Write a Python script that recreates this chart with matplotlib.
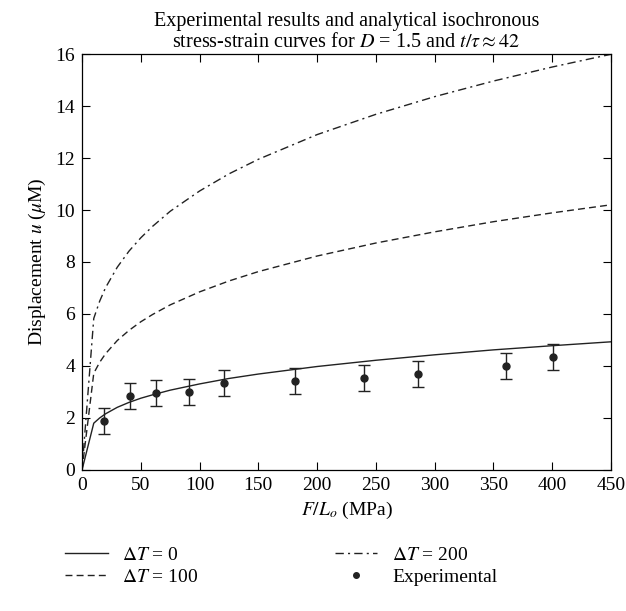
import matplotlib
matplotlib.use("Agg")
import matplotlib.pyplot as plt

# Analytical curves
x_curve = [0, 10, 15, 20, 30, 40, 50, 60, 75, 100, 125, 150, 200, 250, 300, 350, 400, 450]
u_dt0 = [0, 1.80, 2.00, 2.16, 2.41, 2.60, 2.76, 2.89, 3.07, 3.31, 3.52, 3.69, 3.98, 4.22, 4.43, 4.62, 4.78, 4.93]
u_dt100 = [0, 3.72, 4.14, 4.47, 4.98, 5.37, 5.70, 5.98, 6.35, 6.85, 7.27, 7.63, 8.23, 8.73, 9.16, 9.55, 9.89, 10.2]
u_dt200 = [0, 5.83, 6.49, 7.01, 7.80, 8.42, 8.93, 9.37, 9.95, 10.73, 11.39, 11.95, 12.90, 13.68, 14.36, 14.96, 15.50, 15.99]

# Experimental data
x_exp = [18.7, 40.8, 62.9, 91, 120.7, 181, 239.8, 285.7, 360.5, 400.5]
u_exp = [1.88, 2.85, 2.96, 3.0, 3.35, 3.42, 3.54, 3.69, 4.0, 4.36]
u_err = [0.5, 0.5, 0.5, 0.5, 0.5, 0.5, 0.5, 0.5, 0.5, 0.5]

x_ticks = [0, 50, 100, 150, 200, 250, 300, 350, 400, 450]
y_ticks = [0, 2, 4, 6, 8, 10, 12, 14, 16]

plt.rcParams['font.family'] = ['Liberation Serif', 'DejaVu Serif']
plt.rcParams['mathtext.fontset'] = 'stix'
plt.rcParams['font.size'] = 14

fig = plt.figure(figsize=(6.26, 6.11), dpi=100)
ax = fig.add_axes([0.131, 0.2308, 0.845, 0.6808])

lc = '#222222'
l0, = ax.plot(x_curve, u_dt0, color=lc, lw=1.0, label=r'$\Delta T$ = 0')
l1, = ax.plot(x_curve, u_dt100, color=lc, lw=1.0, dashes=(5, 3), label=r'$\Delta T$ = 100')
l2, = ax.plot(x_curve, u_dt200, color=lc, lw=1.0, dashes=(6, 3, 1.5, 3), label=r'$\Delta T$ = 200')
ax.errorbar(x_exp, u_exp, yerr=u_err, fmt='o', color=lc, ms=5, capsize=4,
            elinewidth=1.0, capthick=1.0)
le, = ax.plot([], [], 'o', color=lc, ms=4, label='Experimental')

ax.set_xlim(0, 450)
ax.set_ylim(0, 16)
ax.set_xticks(x_ticks)
ax.set_yticks(y_ticks)
ax.tick_params(direction='in', top=True, right=True, length=6, width=0.8, pad=5)
for s in ax.spines.values():
    s.set_linewidth(0.9)

ax.set_xlabel(r'$F/L_o$ (MPa)', labelpad=4)
ax.set_ylabel(r'Displacement $u$ ($\mu$M)', labelpad=5)
ax.set_title('Experimental results and analytical isochronous\n'
             r'stress-strain curves for $D$ = 1.5 and $t/\tau \approx 42$',
             fontsize=14.5, linespacing=1.15, pad=5)

fig.legend(handles=[l0, l1, l2, le], ncol=2, frameon=False,
           loc='upper left', bbox_to_anchor=(0.076, 0.135), columnspacing=7.0,
           handlelength=2.2, handletextpad=0.75, labelspacing=0.25,
           borderpad=0.4)

fig.savefig('out.png', dpi=100)
